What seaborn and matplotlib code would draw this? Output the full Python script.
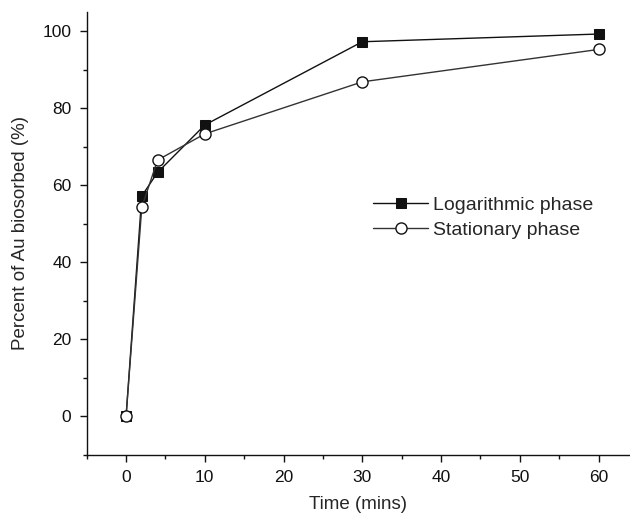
import matplotlib
matplotlib.use("Agg")
import matplotlib.pyplot as plt
from matplotlib.ticker import MultipleLocator
import seaborn as sns
import pandas as pd

time_min = [0, 2, 4, 10, 30, 60]
log_phase = [0, 57.2, 63.3, 75.6, 97.2, 99.2]
stat_phase = [0, 54.3, 66.5, 73.3, 86.8, 95.2]
series_names = ["Logarithmic phase", "Stationary phase"]

sns.set_theme(style="ticks")
plt.rcParams["font.family"] = ["Liberation Sans", "DejaVu Sans"]

df = pd.DataFrame({
    "Time": time_min * 2,
    "Percent": log_phase + stat_phase,
    "Phase": [series_names[0]] * len(time_min) + [series_names[1]] * len(time_min),
})

fig = plt.figure(figsize=(6.30, 5.19), dpi=100)
ax = fig.add_axes([0.1376, 0.1233, 0.8624, 0.8542])

sns.lineplot(data=df[df.Phase == series_names[0]], x="Time", y="Percent", ax=ax,
             color="#111111", linewidth=1.0, marker="s", markersize=7.5,
             markerfacecolor="#111111", markeredgecolor="#111111",
             label=series_names[0])
sns.lineplot(data=df[df.Phase == series_names[1]], x="Time", y="Percent", ax=ax,
             color="#333333", linewidth=1.0, marker="o", markersize=8,
             markerfacecolor="white", markeredgecolor="#111111", markeredgewidth=1.0,
             label=series_names[1])

ax.set_xlim(-5, 64)
ax.set_ylim(-10, 105)
ax.xaxis.set_major_locator(MultipleLocator(10))
ax.xaxis.set_minor_locator(MultipleLocator(5))
ax.yaxis.set_major_locator(MultipleLocator(20))
ax.yaxis.set_minor_locator(MultipleLocator(10))
ax.tick_params(which="major", length=5, width=1.0, labelsize=12.5, colors="#111111", pad=6)
ax.tick_params(which="minor", length=3, width=1.0, colors="#111111")
for s in ["top", "right"]:
    ax.spines[s].set_visible(False)
for s in ["left", "bottom"]:
    ax.spines[s].set_linewidth(1.0)
    ax.spines[s].set_color("#111111")

ax.set_xlabel("Time (mins)", fontsize=13.5, labelpad=8)
ax.set_ylabel("Percent of Au biosorbed (%)", fontsize=13.5, labelpad=10)

leg = ax.legend(loc="upper left", bbox_to_anchor=(0.51, 0.605), frameon=False,
                fontsize=14, handlelength=2.8, handletextpad=0.25, labelspacing=0.35,
                borderpad=0)

fig.savefig("out.png", dpi=100)
